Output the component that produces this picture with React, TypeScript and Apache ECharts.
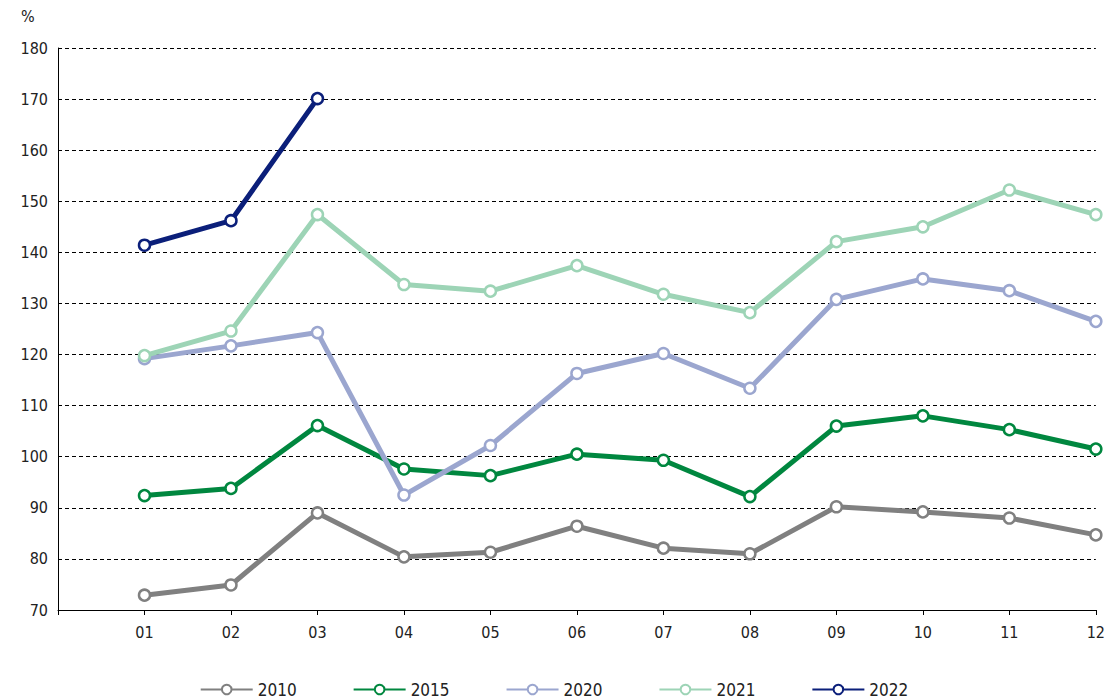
import React, { useEffect, useRef } from "react";
import * as echarts from "echarts";

const categories = ["", "01", "02", "03", "04", "05", "06", "07", "08", "09", "10", "11", "12"];
const s2010 = [72.9, 74.9, 89, 80.4, 81.3, 86.4, 82.1, 81, 90.2, 89.2, 88, 84.7];
const s2015 = [92.4, 93.8, 106.1, 97.6, 96.3, 100.5, 99.3, 92.2, 106, 108, 105.3, 101.5];
const s2020 = [119.2, 121.7, 124.3, 92.5, 102.2, 116.3, 120.2, 113.4, 130.8, 134.8, 132.5, 126.5];
const s2021 = [119.8, 124.6, 147.4, 133.7, 132.4, 137.4, 131.8, 128.2, 142.1, 145, 152.2, 147.4];
const s2022 = [141.4, 146.2, 170.1];
const names = ["2010", "2015", "2020", "2021", "2022"];
const colors = ["#808080", "#00873f", "#9ba6cf", "#9dd4b6", "#0b1f7a"];

export default function App() {
  const ref = useRef<HTMLDivElement>(null);
  useEffect(() => {
    document.body.style.margin = "0";
    document.body.style.overflow = "hidden";
    const chart = echarts.init(ref.current!, null, { renderer: "svg" });
    const font = "'DejaVu Sans Condensed', 'Liberation Sans Narrow', 'Noto Sans', sans-serif";
    const all = [s2010, s2015, s2020, s2021, s2022];
    chart.setOption({
      animation: false,
      textStyle: { fontFamily: font },
      grid: { left: 58, right: 12, top: 48, bottom: 88 },
      legend: {
        top: 676, left: "center", itemGap: 56, itemWidth: 52, itemHeight: 12,
        textStyle: { fontSize: 17, color: "#222", fontFamily: font },
        data: names,
      },
      graphic: [{ type: "text", left: 21, top: 8, style: { text: "%", fontSize: 16, fill: "#222", fontFamily: font } }],
      xAxis: {
        type: "category", data: categories, boundaryGap: false,
        axisLine: { lineStyle: { color: "#000" } },
        axisTick: { show: true, lineStyle: { color: "#000" } },
        axisLabel: { color: "#222", fontSize: 16, margin: 14 },
      },
      yAxis: {
        type: "value", min: 70, max: 180, interval: 10,
        axisLine: { show: true, lineStyle: { color: "#000" } },
        axisTick: { show: false },
        axisLabel: { color: "#222", fontSize: 16, margin: 10 },
        splitLine: { lineStyle: { color: "#000", type: [4, 3], width: 1 } },
      },
      series: all.map((d, i) => ({
        name: names[i], type: "line", data: [null, ...d],
        color: colors[i],
        lineStyle: { width: 5, color: colors[i] },
        symbol: "circle", symbolSize: 11,
        itemStyle: { color: "#fff", borderColor: colors[i], borderWidth: 2.5 },
      })),
    });
    return () => chart.dispose();
  }, []);
  return <div ref={ref} style={{ width: 1108, height: 698 }} />;
}
